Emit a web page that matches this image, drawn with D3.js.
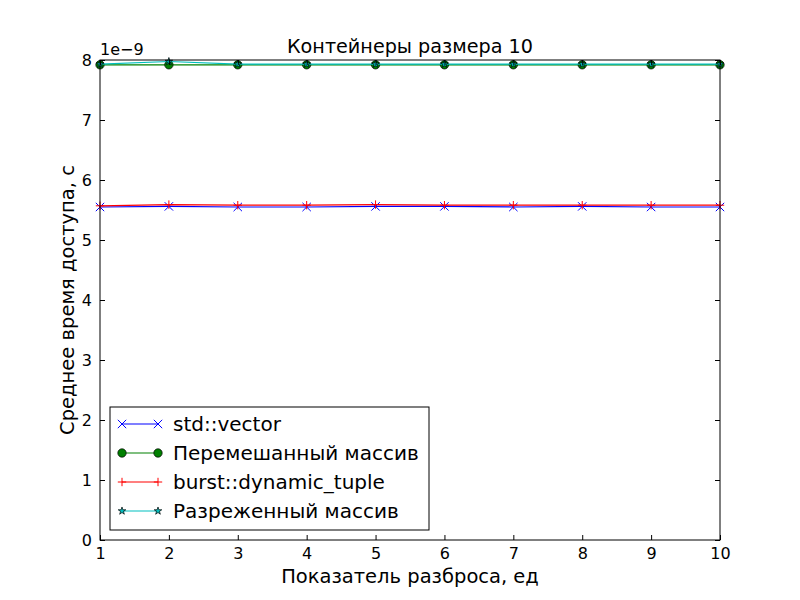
<!DOCTYPE html>
<html>
<head>
<meta charset="utf-8">
<script src="https://cdn.jsdelivr.net/npm/d3@7"></script>
<style>
  body { margin: 0; background: #fff; }
  text { font-family: "DejaVu Sans", sans-serif; }
</style>
</head>
<body>
<div id="chart"></div>
<script>
// Data (values in 1e-9 s)
var xValues = [1, 2, 3, 4, 5, 6, 7, 8, 9, 10];
var vectorTimes = [5.55, 5.56, 5.55, 5.55, 5.56, 5.56, 5.55, 5.56, 5.55, 5.55];
var mixedTimes = [7.92, 7.92, 7.92, 7.92, 7.92, 7.92, 7.92, 7.92, 7.92, 7.92];
var tupleTimes = [5.57, 5.59, 5.58, 5.58, 5.59, 5.58, 5.58, 5.58, 5.58, 5.58];
var sparseTimes = [7.93, 7.975, 7.93, 7.93, 7.93, 7.93, 7.93, 7.93, 7.93, 7.93];
var xTicks = [1, 2, 3, 4, 5, 6, 7, 8, 9, 10];
var yTicks = [0, 1, 2, 3, 4, 5, 6, 7, 8];
var seriesNames = ["std::vector", "Перемешанный массив", "burst::dynamic_tuple", "Разреженный массив"];

var series = [
  { name: seriesNames[0], values: vectorTimes, color: "#0000ff", marker: "x" },
  { name: seriesNames[1], values: mixedTimes, color: "#008000", marker: "o" },
  { name: seriesNames[2], values: tupleTimes, color: "#ff0000", marker: "+" },
  { name: seriesNames[3], values: sparseTimes, color: "#00bfbf", marker: "*" }
];

var svgWidth = 800;
var svgHeight = 600;
var margin = { top: 60, right: 80, bottom: 60, left: 100 };
var width = svgWidth - margin.left - margin.right;
var height = svgHeight - margin.top - margin.bottom;

var svg = d3.select("#chart").append("svg")
  .attr("width", svgWidth)
  .attr("height", svgHeight);

svg.append("rect").attr("width", svgWidth).attr("height", svgHeight).attr("fill", "#fff");

var chartGroup = svg.append("g")
  .attr("transform", `translate(${margin.left}, ${margin.top})`);

var xScale = d3.scaleLinear().domain([1, 10]).range([0, width]);
var yScale = d3.scaleLinear().domain([0, 8]).range([height, 0]);

// draw a marker of given type at (0,0)
function drawMarker(g, type, color) {
  var s = 4.2;
  if (type === "x") {
    g.append("path").attr("d", `M${-s},${-s}L${s},${s}M${-s},${s}L${s},${-s}`)
      .attr("stroke", color).attr("stroke-width", 1);
  } else if (type === "+") {
    g.append("path").attr("d", `M${-s},0L${s},0M0,${-s}L0,${s}`)
      .attr("stroke", color).attr("stroke-width", 1);
  } else if (type === "o") {
    g.append("circle").attr("r", s).attr("fill", color)
      .attr("stroke", "#000").attr("stroke-width", 0.7);
  } else if (type === "*") {
    g.append("path").attr("d", d3.symbol(d3.symbolStar, 18)())
      .attr("fill", color).attr("stroke", "#000").attr("stroke-width", 0.7);
  }
}

var line = d3.line()
  .x((d, i) => xScale(xValues[i]))
  .y(d => yScale(d));

var plotArea = chartGroup.append("g");

series.forEach(function(s) {
  plotArea.append("path")
    .datum(s.values)
    .attr("d", line)
    .attr("fill", "none")
    .attr("stroke", s.color)
    .attr("stroke-width", 1.2);
  s.values.forEach(function(v, i) {
    var m = plotArea.append("g")
      .attr("transform", `translate(${xScale(xValues[i])}, ${yScale(v)})`);
    drawMarker(m, s.marker, s.color);
  });
});

// Axes with inward ticks on all sides
var bottomAxis = d3.axisBottom(xScale).tickValues(xTicks).tickSizeInner(-5).tickSizeOuter(0).tickPadding(8);
var topAxis = d3.axisTop(xScale).tickValues(xTicks).tickSizeInner(-5).tickSizeOuter(0).tickFormat("");
var leftAxis = d3.axisLeft(yScale).tickValues(yTicks).tickSizeInner(-5).tickSizeOuter(0).tickPadding(8);
var rightAxis = d3.axisRight(yScale).tickValues(yTicks).tickSizeInner(-5).tickSizeOuter(0).tickFormat("");

function styleAxis(g) {
  g.selectAll("path.domain").remove();
  g.selectAll("line").attr("stroke", "#000");
  g.selectAll("text").attr("font-family", "DejaVu Sans").attr("font-size", 16).attr("fill", "#000");
}

chartGroup.append("g").attr("transform", `translate(0, ${height})`).call(bottomAxis).call(styleAxis);
chartGroup.append("g").call(topAxis).call(styleAxis);
chartGroup.append("g").call(leftAxis).call(styleAxis);
chartGroup.append("g").attr("transform", `translate(${width}, 0)`).call(rightAxis).call(styleAxis);

// frame
chartGroup.append("rect")
  .attr("width", width).attr("height", height)
  .attr("fill", "none").attr("stroke", "#000").attr("stroke-width", 1);

// offset text
chartGroup.append("text")
  .attr("x", 0).attr("y", -5)
  .attr("font-size", 16)
  .text("1e\u22129");

// title
svg.append("text")
  .attr("x", margin.left + width / 2).attr("y", 53)
  .attr("text-anchor", "middle")
  .attr("font-size", 19.2)
  .text("Контейнеры размера 10");

// axis labels
svg.append("text")
  .attr("x", margin.left + width / 2).attr("y", 583)
  .attr("text-anchor", "middle")
  .attr("font-size", 19.5)
  .text("Показатель разброса, ед");

svg.append("text")
  .attr("transform", `translate(74, ${margin.top + height / 2}) rotate(-90)`)
  .attr("text-anchor", "middle")
  .attr("font-size", 19.5)
  .text("Среднее время доступа, с");

// legend
var legend = chartGroup.append("g").attr("transform", "translate(10, 347)");
legend.append("rect")
  .attr("width", 319).attr("height", 123)
  .attr("fill", "#fff").attr("stroke", "#000").attr("stroke-width", 1);

series.forEach(function(s, i) {
  var y = 17 + i * 29;
  var row = legend.append("g").attr("transform", `translate(0, ${y})`);
  row.append("line")
    .attr("x1", 12).attr("x2", 48).attr("y1", 0).attr("y2", 0)
    .attr("stroke", s.color).attr("stroke-width", 1.2);
  [12, 48].forEach(function(mx) {
    drawMarker(row.append("g").attr("transform", `translate(${mx}, 0)`), s.marker, s.color);
  });
  row.append("text")
    .attr("x", 63).attr("y", 7)
    .attr("font-size", 20)
    .text(s.name);
});
</script>
</body>
</html>
